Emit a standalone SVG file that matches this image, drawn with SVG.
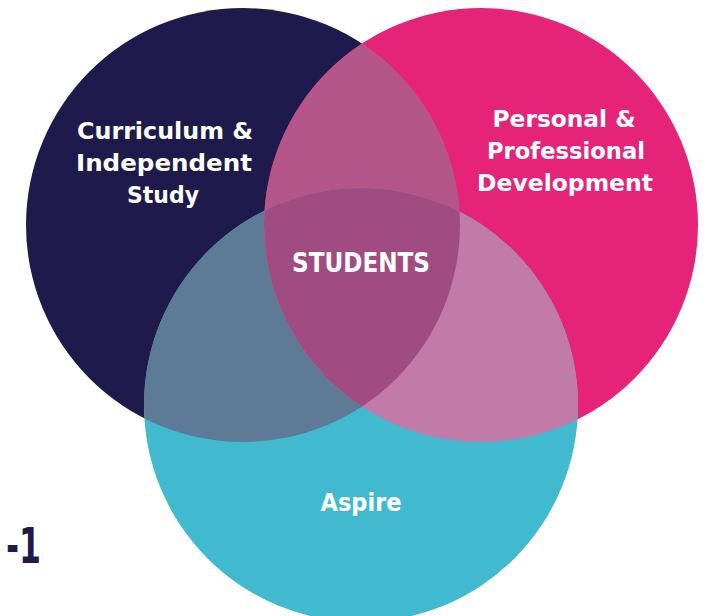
<svg xmlns="http://www.w3.org/2000/svg" width="707" height="616" viewBox="0 0 707 616">
<style>
.lbl{font-family:"DejaVu Sans","Liberation Sans",sans-serif;font-weight:bold;fill:#ffffff;text-anchor:middle}
</style>
<defs>
<clipPath id="cN"><circle cx="243" cy="225" r="217"/></clipPath>
<clipPath id="cP"><circle cx="481" cy="225" r="217"/></clipPath>
</defs>
<rect width="707" height="616" fill="#ffffff"/>
<g id="curriculum">
<circle cx="243" cy="225" r="217" fill="#1e1b4c"/>
</g>
<g id="personal">
<circle cx="481" cy="225" r="217" fill="#e52479"/>
</g>
<g id="aspire">
<circle cx="361" cy="405" r="217" fill="#41b9cf"/>
</g>
<g id="overlaps">
<circle cx="481" cy="225" r="217" fill="#b5568a" clip-path="url(#cN)"/>
<circle cx="361" cy="405" r="217" fill="#5d7b97" clip-path="url(#cN)"/>
<circle cx="361" cy="405" r="217" fill="#c07ba9" clip-path="url(#cP)"/>
<g clip-path="url(#cN)"><circle cx="361" cy="405" r="217" fill="#a04c82" clip-path="url(#cP)"/></g>
</g>
<g id="labels-curriculum">
<text class="lbl" x="165" y="139" font-size="23" textLength="176" lengthAdjust="spacingAndGlyphs">Curriculum &amp;</text>
<text class="lbl" x="164" y="171" font-size="23" textLength="176" lengthAdjust="spacingAndGlyphs">Independent</text>
<text class="lbl" x="163" y="203" font-size="23" textLength="72" lengthAdjust="spacingAndGlyphs">Study</text>
</g>
<g id="labels-personal">
<text class="lbl" x="564" y="127" font-size="23" textLength="143" lengthAdjust="spacingAndGlyphs">Personal &amp;</text>
<text class="lbl" x="566" y="159" font-size="23" textLength="158" lengthAdjust="spacingAndGlyphs">Professional</text>
<text class="lbl" x="565" y="191" font-size="23" textLength="176" lengthAdjust="spacingAndGlyphs">Development</text>
</g>
<g id="students">
<text class="lbl" x="361" y="272" font-size="26" textLength="138" lengthAdjust="spacingAndGlyphs">STUDENTS</text>
</g>
<g id="labels-aspire">
<text class="lbl" x="361" y="511" font-size="24" textLength="81" lengthAdjust="spacingAndGlyphs">Aspire</text>
</g>
<text x="6" y="563" font-family="DejaVu Sans, sans-serif" font-weight="bold" font-size="49" fill="#1e1b4c" textLength="35" lengthAdjust="spacingAndGlyphs">-1</text>
</svg>
